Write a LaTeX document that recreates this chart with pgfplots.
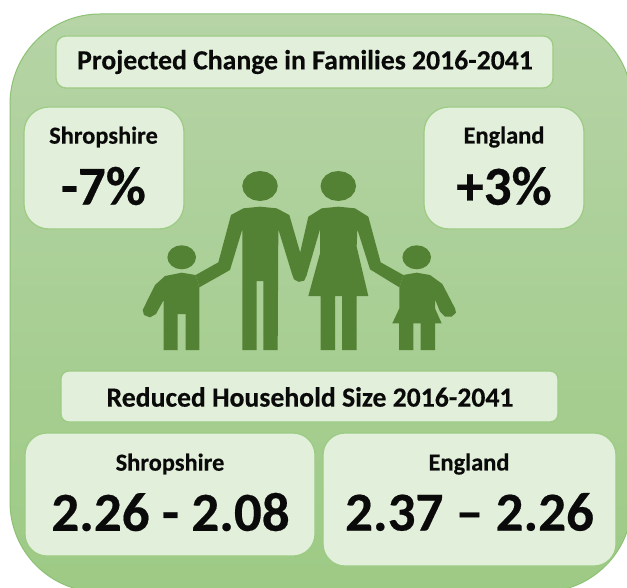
\documentclass[border=0pt]{standalone}
\usepackage{pgfplots}
\pgfplotsset{compat=1.18}
\usepackage{fontspec}
\setmainfont{Carlito}[BoldFeatures={FakeBold=0.35}]
\definecolor{boxfill}{HTML}{E2EFDA}
\definecolor{boxline}{HTML}{9CCB84}
\definecolor{bgtop}{HTML}{B6D4A6}
\definecolor{bgbot}{HTML}{9DCA85}
\definecolor{bgline}{HTML}{8DC274}
\definecolor{fig}{HTML}{548235}
\definecolor{ink}{HTML}{0A0A0A}
\newcommand{\fs}[1]{\fontsize{#1bp}{#1bp}\selectfont\bfseries\color{ink}}
\pgfplotsset{
  canvas/.style={width=627bp,height=588bp,scale only axis,hide axis,at={(0,0)},anchor=south west,y dir=reverse},
  box/.style={fill=boxfill,draw=boxline,line width=1.2bp,no markers,sharp plot,forget plot},
  person/.style={fill=fig,draw=none,no markers,sharp plot,forget plot},
}
\begin{document}
\begin{tikzpicture}
\begin{axis}[canvas,xmin=0,xmax=627,ymin=0,ymax=588]
\addplot[fill=white,draw=none,no markers,forget plot] coordinates {(0,0)(627,0)(627,588)(0,588)(0,0)};
% background panel
\addplot[top color=bgtop,bottom color=bgbot,draw=bgline,line width=1bp,rounded corners=90bp,no markers,sharp plot,forget plot]
  coordinates {(320,14)(632,14)(632,592)(10,592)(10,14)(320,14)};
% boxes
\addplot[box,rounded corners=10bp] coordinates {(300,36)(553,36)(553,88)(56,88)(56,36)(300,36)};
\addplot[box,rounded corners=25bp] coordinates {(100,107)(184,107)(184,229)(24,229)(24,107)(100,107)};
\addplot[box,rounded corners=25bp] coordinates {(500,107)(584,107)(584,229)(424,229)(424,107)(500,107)};
\addplot[box,rounded corners=8bp] coordinates {(300,371)(558,371)(558,422)(61,422)(61,371)(300,371)};
\addplot[box,rounded corners=22bp] coordinates {(170,433)(315,433)(315,556)(25,556)(25,433)(170,433)};
\addplot[box,rounded corners=22bp] coordinates {(470,433)(616,433)(616,566)(323,566)(323,433)(470,433)};
% texts
\node at (axis cs:305,62) {\fs{27.7}Projected Change in Families 2016-2041};
\node at (axis cs:103.5,137) {\fs{24.4}Shropshire};
\node at (axis cs:103.5,186) {\fs{55}-7\%};
\node at (axis cs:504,137) {\fs{24.4}England};
\node at (axis cs:504,186) {\fs{55}+3\%};
\node at (axis cs:310,397) {\fs{27.7}Reduced Household Size 2016-2041};
\node at (axis cs:170,464) {\fs{24.4}Shropshire};
\node at (axis cs:170.5,512) {\fs{55}2.26 - 2.08};
\node at (axis cs:469,464) {\fs{24.4}England};
\node at (axis cs:469.5,512) {\fs{55}2.37 – 2.26};
% heads
\addplot[person] coordinates {(277.8,186)(276.4,191.7)(272.6,196.6)(266.8,199.9)(260,201)(253.2,199.9)(247.4,196.6)(243.6,191.7)(242.2,186)(243.6,180.3)(247.4,175.4)(253.2,172.1)(260,171)(266.8,172.1)(272.6,175.4)(276.4,180.3)};
\addplot[person] coordinates {(356.1,186)(354.7,191.7)(350.9,196.6)(345.1,199.9)(338.3,201)(331.5,199.9)(325.7,196.6)(321.9,191.7)(320.5,186)(321.9,180.3)(325.7,175.4)(331.5,172.1)(338.3,171)(345.1,172.1)(350.9,175.4)(354.7,180.3)};
\addplot[person] coordinates {(196,257.3)(194.9,261.9)(191.8,265.8)(187.2,268.4)(181.7,269.3)(176.2,268.4)(171.6,265.8)(168.5,261.9)(167.4,257.3)(168.5,252.7)(171.6,248.8)(176.2,246.2)(181.7,245.3)(187.2,246.2)(191.8,248.8)(194.9,252.7)};
\addplot[person] coordinates {(431,257.3)(429.9,261.9)(426.8,265.8)(422.2,268.4)(416.7,269.3)(411.2,268.4)(406.6,265.8)(403.5,261.9)(402.4,257.3)(403.5,252.7)(406.6,248.8)(411.2,246.2)(416.7,245.3)(422.2,246.2)(426.8,248.8)(429.9,252.7)};
\end{axis}
\begin{axis}[canvas,xmin=-390,xmax=1491,ymin=-480,ymax=1284]
% man
\addplot[person] coordinates {(390,140)(440,145)(478,165)(530,345)(522,362)(505,365)(492,358)(487,345)(445,208)(443,570)(400,570)(400,363)(380,363)(380,570)(337,570)(337,208)(300,330)(208,382)(197,345)(265,307)(303,165)(340,145)};
% woman
\addplot[person] coordinates {(625,140)(675,145)(715,170)(752,307)(820,345)(808,382)(720,328)(682,208)(680,260)(715,408)(680,408)(680,570)(636,570)(636,408)(615,408)(615,570)(572,570)(572,408)(535,408)(570,280)(570,208)(530,345)(522,362)(505,365)(495,345)(535,170)(575,145)};
% left child
\addplot[person] coordinates {(155,338)(197,345)(208,382)(208,570)(167,570)(167,462)(143,462)(143,570)(101,570)(101,420)(78,462)(60,472)(42,465)(38,450)(75,375)(105,348)};
% right child
\addplot[person] coordinates {(860,338)(900,345)(937,372)(975,445)(978,458)(965,470)(945,470)(930,455)(915,418)(915,445)(935,490)(915,490)(915,570)(872,570)(872,490)(850,490)(850,570)(807,570)(807,490)(787,490)(808,445)(808,382)(820,345)};
\end{axis}
\end{tikzpicture}
\end{document}
